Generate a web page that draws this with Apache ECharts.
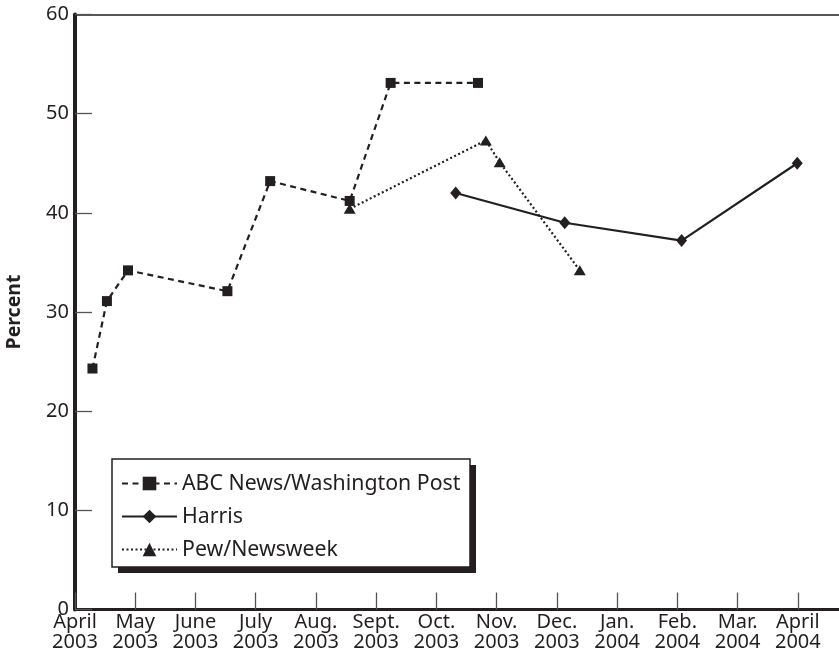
<!DOCTYPE html>
<html>
<head>
<meta charset="utf-8">
<script src="https://cdn.jsdelivr.net/npm/echarts@6/dist/echarts.min.js"></script>
<style>
html,body{margin:0;padding:0;background:#fff;}
#chart{width:839px;height:659px;}
</style>
</head>
<body>
<div id="chart"></div>
<script>
// x positions are months after April 2003 (0 = April 2003)
const monthLabels = ['April\n2003','May\n2003','June\n2003','July\n2003','Aug.\n2003','Sept.\n2003','Oct.\n2003','Nov.\n2003','Dec.\n2003','Jan.\n2004','Feb.\n2004','Mar.\n2004','April\n2004'];
const abcX = [0.29, 0.53, 0.88, 2.53, 3.24, 4.56, 5.24, 6.69];
const abcY = [24.3, 31.1, 34.2, 32.1, 43.2, 41.2, 53.1, 53.1];
const harrisX = [6.32, 8.13, 10.07, 11.99];
const harrisY = [42.0, 39.0, 37.2, 45.0];
const pewX = [4.56, 6.82, 7.05, 8.38];
const pewY = [40.4, 47.3, 45.1, 34.2];
const seriesNames = ['ABC News/Washington Post', 'Harris', 'Pew/Newsweek'];

const ink = '#231f20';
const font = 'Noto Sans';
const pair = (xs, ys) => xs.map((x, i) => [x, ys[i]]);

const chart = echarts.init(document.getElementById('chart'), null, {renderer: 'canvas'});
chart.setOption({
  animation: false,
  backgroundColor: '#fff',
  textStyle: {fontFamily: font, color: ink},
  grid: {left: 75, top: 14.5, right: -1, bottom: 49.5, containLabel: false, outerBoundsMode: 'none'},
  graphic: [
    {type: 'rect', z: 50, shape: {x: 118, y: 465, width: 358, height: 108}, style: {fill: ink}},
    {type: 'rect', z: 51, shape: {x: 112, y: 459, width: 358, height: 108}, style: {fill: '#fff', stroke: ink, lineWidth: 1.5}}
  ],
  legend: {
    orient: 'vertical',
    left: 121, top: 473,
    padding: 0,
    itemGap: 12,
    itemWidth: 55, itemHeight: 17,
    z: 60,
    textStyle: {fontFamily: font, fontSize: 21.3, lineHeight: 20, color: ink},
    data: seriesNames
  },
  xAxis: [{
    type: 'value', min: 0, max: 12.7, interval: 1,
    splitLine: {show: false},
    axisLine: {show: true, lineStyle: {color: ink, width: 3}},
    axisTick: {show: true, inside: true, length: 17, lineStyle: {color: '#555', width: 1.3}},
    axisLabel: {
      show: true, margin: 3, fontSize: 20, lineHeight: 20, color: ink, fontFamily: font,
      showMaxLabel: false,
      formatter: v => (Number.isInteger(v) && monthLabels[v]) ? monthLabels[v] : ''
    }
  }, {
    type: 'value', position: 'top', min: 0, max: 12.7,
    splitLine: {show: false},
    axisLine: {show: true, lineStyle: {color: ink, width: 1.5}},
    axisTick: {show: false}, axisLabel: {show: false}
  }],
  yAxis: {
    type: 'value', min: 0, max: 60, interval: 10,
    name: 'Percent', nameLocation: 'middle', nameGap: 51,
    nameTextStyle: {fontFamily: font, fontSize: 19.5, fontWeight: 'bold', color: ink},
    splitLine: {show: false},
    axisLine: {show: true, lineStyle: {color: ink, width: 4}},
    axisTick: {show: true, inside: true, length: 17, lineStyle: {color: '#555', width: 1.3}},
    axisLabel: {show: true, margin: 6, fontSize: 20, color: ink, fontFamily: font}
  },
  series: [{
    name: seriesNames[0], type: 'line', data: pair(abcX, abcY),
    symbol: 'rect', symbolSize: 10,
    itemStyle: {color: ink},
    lineStyle: {color: ink, width: 2.2, type: [6, 4.5]}
  }, {
    name: seriesNames[1], type: 'line', data: pair(harrisX, harrisY),
    symbol: 'diamond', symbolSize: [11, 13],
    itemStyle: {color: ink},
    lineStyle: {color: ink, width: 2.2, type: 'solid'}
  }, {
    name: seriesNames[2], type: 'line', data: pair(pewX, pewY),
    symbol: 'triangle', symbolSize: [12, 10],
    itemStyle: {color: ink},
    lineStyle: {color: ink, width: 2.2, type: [2, 2.5]}
  }]
});
</script>
</body>
</html>
